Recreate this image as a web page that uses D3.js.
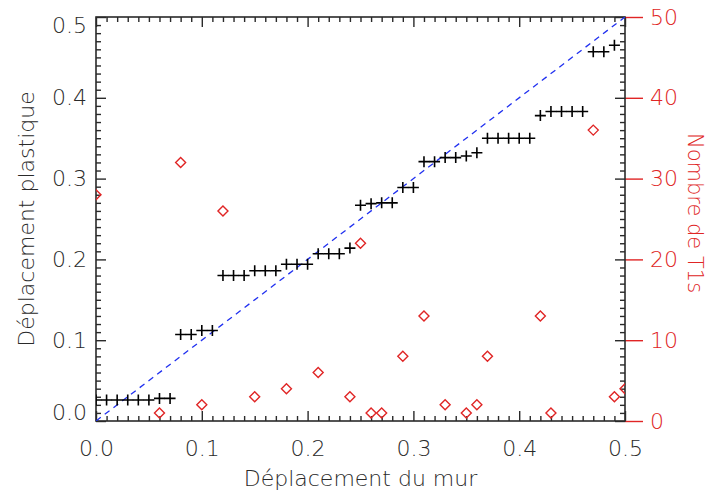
<!DOCTYPE html>
<html><head><meta charset="utf-8">
<script src="https://cdn.jsdelivr.net/npm/d3@7"></script>
<style>body{margin:0;background:#fff}</style>
</head><body>
<svg id="c" width="710" height="493"></svg>
<script>
// Plastic displacement (+) vs wall displacement
const plusX = [0.00,0.01,0.02,0.03,0.04,0.05,0.06,0.07,0.08,0.09,
               0.10,0.11,0.12,0.13,0.14,0.15,0.16,0.17,0.18,0.19,
               0.20,0.21,0.22,0.23,0.24,0.25,0.26,0.27,0.28,0.29,
               0.30,0.31,0.32,0.33,0.34,0.35,0.36,0.37,0.38,0.39,
               0.40,0.41,0.42,0.43,0.44,0.45,0.46,0.47,0.48,0.49];
const plusY = [0.026,0.026,0.026,0.026,0.026,0.026,0.028,0.028,0.107,0.107,
               0.112,0.112,0.180,0.180,0.180,0.186,0.186,0.186,0.194,0.194,
               0.194,0.207,0.207,0.207,0.214,0.267,0.269,0.270,0.270,0.289,
               0.289,0.321,0.321,0.326,0.326,0.328,0.332,0.350,0.350,0.350,
               0.350,0.350,0.378,0.383,0.383,0.383,0.383,0.457,0.457,0.465];
// Number of T1s (diamonds, right axis)
const t1X = [0.00,0.06,0.08,0.10,0.12,0.15,0.18,0.21,0.24,0.25,0.26,0.27,
             0.29,0.31,0.33,0.35,0.36,0.37,0.42,0.43,0.47,0.49,0.50];
const t1Count = [28,1,32,2,26,3,4,6,3,22,1,1,8,13,2,1,2,8,13,1,36,3,4];
// Reference line y = x
const refX = [0,0.5];
const refY = [0,0.5];
// Ticks
const xTicks = [0,0.1,0.2,0.3,0.4,0.5];
const yTicks = [0,0.1,0.2,0.3,0.4,0.5];
const y2Ticks = [0,10,20,30,40,50];
const minorTicks = [0.01,0.02,0.03,0.04,0.05,0.06,0.07,0.08,0.09,
  0.11,0.12,0.13,0.14,0.15,0.16,0.17,0.18,0.19,
  0.21,0.22,0.23,0.24,0.25,0.26,0.27,0.28,0.29,
  0.31,0.32,0.33,0.34,0.35,0.36,0.37,0.38,0.39,
  0.41,0.42,0.43,0.44,0.45,0.46,0.47,0.48,0.49];

const L=96,R=625,T=17,B=421;
const FONT = "'DejaVu Sans', sans-serif";
const RED = "#e02525";
const INK = "#2a2a2a";
const svg = d3.select("#c");
const x = d3.scaleLinear([0,0.5],[L,R]);
const y = d3.scaleLinear([0,0.5],[B,T]);
const y2 = d3.scaleLinear([0,50],[B,T]);

svg.append("defs").append("clipPath").attr("id","clip")
  .append("rect").attr("x",L).attr("y",T).attr("width",R-L).attr("height",B-T);

function style(g, color){
  g.select(".domain").remove();
  g.selectAll(".tick line").attr("stroke",color).attr("stroke-width",1.4);
  g.selectAll(".tick text").attr("fill",color).style("font-family",FONT)
    .style("font-size","22px").style("font-weight","200");
}
// minor ticks
svg.append("g").attr("transform",`translate(0,${B})`)
  .call(d3.axisBottom(x).tickValues(minorTicks).tickSize(-5).tickFormat(""))
  .call(g=>style(g,INK));
svg.append("g").attr("transform",`translate(0,${T})`)
  .call(d3.axisTop(x).tickValues(minorTicks).tickSize(-5).tickFormat(""))
  .call(g=>style(g,INK));
svg.append("g").attr("transform",`translate(${L},0)`)
  .call(d3.axisLeft(y).tickValues(minorTicks).tickSize(-5).tickFormat(""))
  .call(g=>style(g,INK));
svg.append("g").attr("transform",`translate(${R},0)`)
  .call(d3.axisRight(y).tickValues(minorTicks).tickSize(-5).tickFormat(""))
  .call(g=>style(g,INK));
// major ticks
svg.append("g").attr("transform",`translate(0,${B})`)
  .call(d3.axisBottom(x).tickValues(xTicks).tickSize(-10).tickPadding(19).tickFormat(d3.format(".1f")))
  .call(g=>style(g,INK));
svg.append("g").attr("transform",`translate(0,${T})`)
  .call(d3.axisTop(x).tickValues(xTicks).tickSize(-10).tickFormat(""))
  .call(g=>style(g,INK));
const ly = svg.append("g").attr("transform",`translate(${L},0)`)
  .call(d3.axisLeft(y).tickValues(yTicks).tickSize(-10).tickPadding(9).tickFormat(d3.format(".1f")))
  .call(g=>style(g,INK));
ly.selectAll(".tick text").attr("dy", d => d===0.5 ? "0.72em" : (d===0 ? "-0.05em" : "0.32em"));
svg.append("g").attr("transform",`translate(${R},0)`)
  .call(d3.axisRight(y).tickValues(yTicks).tickSize(-10).tickFormat(""))
  .call(g=>style(g,INK));
// right red axis
svg.append("g").attr("transform",`translate(${R},0)`)
  .call(d3.axisRight(y2).tickValues(y2Ticks).tickSize(18).tickPadding(7))
  .call(g=>style(g,RED));

// frame
svg.append("rect").attr("x",L).attr("y",T).attr("width",R-L).attr("height",B-T)
  .attr("fill","none").attr("stroke",INK).attr("stroke-width",1.6);

const plot = svg.append("g").attr("clip-path","url(#clip)");
// dashed reference line
plot.append("path").datum(refX.map((v,i)=>[v,refY[i]]))
  .attr("d", d3.line().x(d=>x(d[0])).y(d=>y(d[1])))
  .attr("fill","none").attr("stroke","#2030f0").attr("stroke-width",1.3)
  .attr("stroke-dasharray","6,5");
// pluses
plot.selectAll(".p").data(plusX).join("path").attr("class","p")
  .attr("transform",(d,i)=>`translate(${x(d)},${y(plusY[i])})`)
  .attr("d","M-5.5,0H5.5M0,-5.5V5.5").attr("stroke","#000").attr("stroke-width",1.6);
// diamonds
plot.selectAll(".dm").data(t1X).join("path").attr("class","dm")
  .attr("transform",(d,i)=>`translate(${x(d)},${y2(t1Count[i])})`)
  .attr("d","M0,-5L5,0L0,5L-5,0Z").attr("fill","none").attr("stroke",RED).attr("stroke-width",1.4);

// axis titles
svg.append("text").attr("x",(L+R)/2).attr("y",486).attr("text-anchor","middle")
  .style("font-family",FONT).style("font-size","22px").style("font-weight","200").attr("fill",INK)
  .text("Déplacement du mur");
svg.append("text").attr("transform",`translate(34,${(T+B)/2}) rotate(-90)`).attr("text-anchor","middle")
  .style("font-family",FONT).style("font-size","22px").style("font-weight","200").attr("fill",INK)
  .text("Déplacement plastique");
svg.append("text").attr("transform",`translate(688,${(T+B)/2 - 6}) rotate(90)`).attr("text-anchor","middle")
  .style("font-family",FONT).style("font-size","21px").style("font-weight","200").attr("fill",RED)
  .text("Nombre de T1s");
</script>
</body></html>
